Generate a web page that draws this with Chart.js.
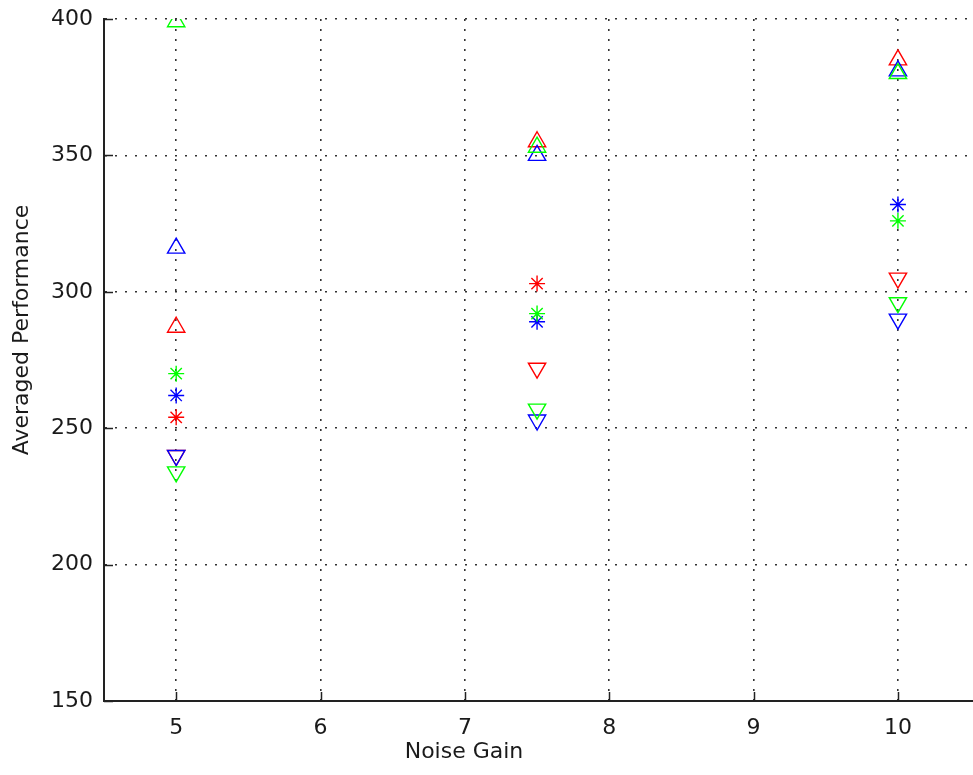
<!DOCTYPE html>
<html>
<head>
<meta charset="utf-8">
<script src="https://cdn.jsdelivr.net/npm/chart.js@4"></script>
<style>
    html, body { margin: 0; padding: 0; background: #fff; overflow: hidden; }
    #wrap { width: 973px; height: 775px; position: relative; }
</style>
</head>
<body>
<div id="wrap"><canvas id="perfChart"></canvas></div>
<script>
// Noise gain settings on the x axis
const noiseGain = [5, 7.5, 10];

// Averaged performance, one array per colour / marker
const redUp = [287, 355, 385];
const greenUp = [399, 353, 380];
const blueUp = [316, 350, 381];
const redStar = [254, 303, null];
const greenStar = [270, 292, 326];
const blueStar = [262, 289, 332];
const redDown = [240, 272, 305];
const greenDown = [234, 257, 296];
const blueDown = [240, 253, 290];

const xTicks = [5, 6, 7, 8, 9, 10];
const yTicks = [150, 200, 250, 300, 350, 400];

const FONT = { family: 'DejaVu Sans, Liberation Sans, sans-serif', size: 22 };

function toPoints(values) {
    return noiseGain.map((x, i) => ({ x: x, y: values[i] }));
}

function series(values, color, marker) {
    return {
        data: toPoints(values),
        borderColor: color,
        backgroundColor: 'rgba(0,0,0,0)',
        pointStyle: marker === 'star' ? 'star' : 'triangle',
        rotation: marker === 'down' ? 180 : 0,
        pointRadius: marker === 'star' ? 8 : 10,
        pointBorderWidth: 1.4,
        showLine: false
    };
}

// MATLAB style inward tick marks
const innerTicks = {
    id: 'innerTicks',
    afterDatasetsDraw(chart) {
        const { ctx, chartArea, scales } = chart;
        ctx.save();
        ctx.strokeStyle = '#222';
        ctx.lineWidth = 1.5;
        xTicks.forEach(v => {
            const px = Math.round(scales.x.getPixelForValue(v)) + 0.5;
            ctx.beginPath();
            ctx.moveTo(px, chartArea.bottom);
            ctx.lineTo(px, chartArea.bottom - 9);
            ctx.stroke();
        });
        yTicks.forEach(v => {
            const py = Math.round(scales.y.getPixelForValue(v)) + 0.5;
            ctx.beginPath();
            ctx.moveTo(chartArea.left, py);
            ctx.lineTo(chartArea.left + 9, py);
            ctx.stroke();
        });
        ctx.restore();
    }
};

// axis labels, placed where the original figure had them
const axisLabels = {
    id: 'axisLabels',
    afterDraw(chart) {
        const { ctx } = chart;
        ctx.save();
        ctx.font = `${FONT.size}px ${FONT.family}`;
        ctx.fillStyle = '#1a1a1a';
        ctx.textAlign = 'center';
        ctx.textBaseline = 'middle';
        ctx.fillText('Noise Gain', 464, 752);
        ctx.translate(22, 330);
        ctx.rotate(-Math.PI / 2);
        ctx.fillText('Averaged Performance', 0, 0);
        ctx.restore();
    }
};

document.addEventListener('DOMContentLoaded', () => {
    const ctx = document.getElementById('perfChart').getContext('2d');

    new Chart(ctx, {
        type: 'scatter',
        data: {
            datasets: [
                series(greenUp, '#00ff00', 'up'),
                series(blueUp, '#0000ff', 'up'),
                series(redUp, '#ff0000', 'up'),
                series(greenStar, '#00ff00', 'star'),
                series(blueStar, '#0000ff', 'star'),
                series(redStar, '#ff0000', 'star'),
                series(greenDown, '#00ff00', 'down'),
                series(blueDown, '#0000ff', 'down'),
                series(redDown, '#ff0000', 'down')
            ]
        },
        options: {
            responsive: true,
            maintainAspectRatio: false,
            animation: false,
            layout: {
                autoPadding: false,
                padding: { top: 19, right: 0, left: 0, bottom: 0 }
            },
            plugins: {
                legend: { display: false },
                tooltip: { enabled: false }
            },
            scales: {
                x: {
                    type: 'linear',
                    min: 4.5,
                    max: 10.52,
                    afterBuildTicks: scale => {
                        scale.ticks = xTicks.map(v => ({ value: v }));
                    },
                    afterFit: scale => {
                        scale.height = 74;
                        scale.paddingLeft = 0;
                        scale.paddingRight = 0;
                    },
                    ticks: {
                        color: '#1a1a1a',
                        font: FONT,
                        padding: 14,
                        maxRotation: 0
                    },
                    grid: {
                        color: '#333',
                        lineWidth: 1.6,
                        drawTicks: false
                    },
                    border: {
                        display: true,
                        color: '#222',
                        width: 2,
                        dash: [2, 8]
                    }
                },
                y: {
                    min: 150,
                    max: 400,
                    afterBuildTicks: scale => {
                        scale.ticks = yTicks.map(v => ({ value: v }));
                    },
                    afterFit: scale => {
                        scale.width = 104;
                        scale.paddingTop = 0;
                        scale.paddingBottom = 0;
                    },
                    ticks: {
                        color: '#1a1a1a',
                        font: FONT,
                        padding: 11
                    },
                    grid: {
                        color: '#333',
                        lineWidth: 1.6,
                        drawTicks: false
                    },
                    border: {
                        display: true,
                        color: '#222',
                        width: 2,
                        dash: [2, 8]
                    }
                }
            }
        },
        plugins: [innerTicks, axisLabels]
    });
});
</script>
</body>
</html>
